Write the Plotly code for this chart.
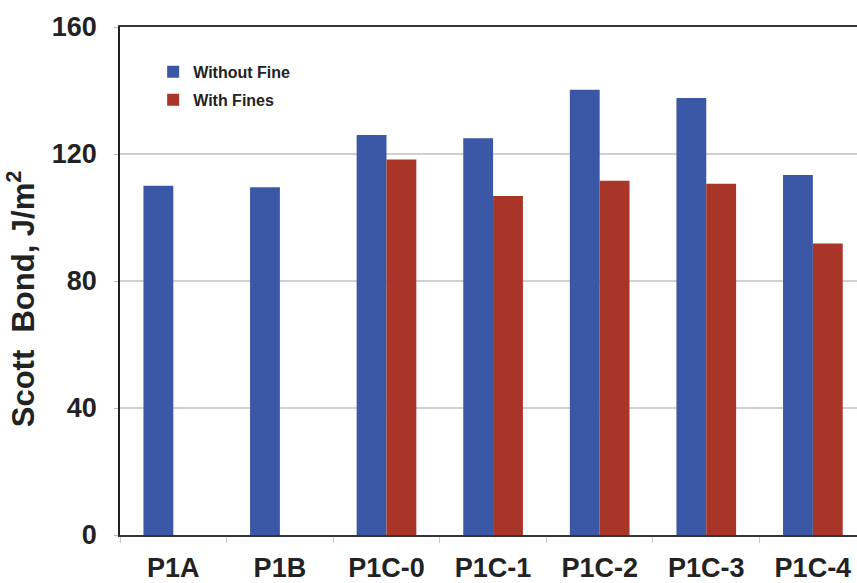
import plotly.graph_objects as go

categories = ["P1A", "P1B", "P1C-0", "P1C-1", "P1C-2", "P1C-3", "P1C-4"]
without_fine = [110, 109.5, 126, 125, 140.2, 137.6, 113.4]
with_fines = [None, None, 118.3, 106.8, 111.6, 110.6, 91.8]

BLUE = "#3a58a6"
RED = "#a83528"
TEXT = "#222222"

fig = go.Figure()
fig.add_trace(go.Bar(name="Without Fine", x=categories, y=without_fine,
                     marker=dict(color=BLUE, line=dict(width=0)),
                     legendgroup="a"))
fig.add_trace(go.Bar(name="With Fines", x=categories, y=with_fines,
                     marker=dict(color=RED, line=dict(width=0)),
                     legendgroup="b"))

fig.update_layout(
    width=857, height=583,
    margin=dict(l=120, r=0, t=27, b=46),
    paper_bgcolor="white", plot_bgcolor="white",
    barmode="group", bargap=0.44, bargroupgap=0,
    font=dict(family="Arial", color=TEXT),
    showlegend=True,
    legend=dict(x=0.045, y=0.945, xanchor="left", yanchor="top",
                bgcolor="rgba(0,0,0,0)", tracegroupgap=4,
                font=dict(size=16, family="Arial", weight="bold", color=TEXT),
                itemwidth=30),
    xaxis=dict(
        range=[-0.5, 6.414], showgrid=False,
        showline=True, linecolor="#333333", linewidth=1.5, mirror=True,
        ticks="outside", tickson="boundaries", ticklen=6, tickcolor="#cccccc",
        ticklabelstandoff=8,
        tickfont=dict(size=27, family="Arial", weight="bold", color=TEXT),
    ),
    yaxis=dict(
        range=[0, 160], tickvals=[0, 40, 80, 120, 160],
        showgrid=True, gridcolor="#d0d0d0", gridwidth=1.5,
        showline=True, linecolor="#222222", linewidth=1.5,
        ticks="outside", ticklen=4, tickcolor="#bbbbbb",
        ticklabelstandoff=12,
        tickfont=dict(size=27, family="Arial", weight="bold", color=TEXT),
        zeroline=False,
    ),
)

fig.add_annotation(
    text="Scott  Bond, J/m<sup>2</sup>", textangle=-90,
    xref="paper", yref="paper", x=-0.135, y=0.465,
    xanchor="center", yanchor="middle", showarrow=False,
    font=dict(size=31, family="Arial", weight="bold", color=TEXT),
)

fig.write_html("out.html")
